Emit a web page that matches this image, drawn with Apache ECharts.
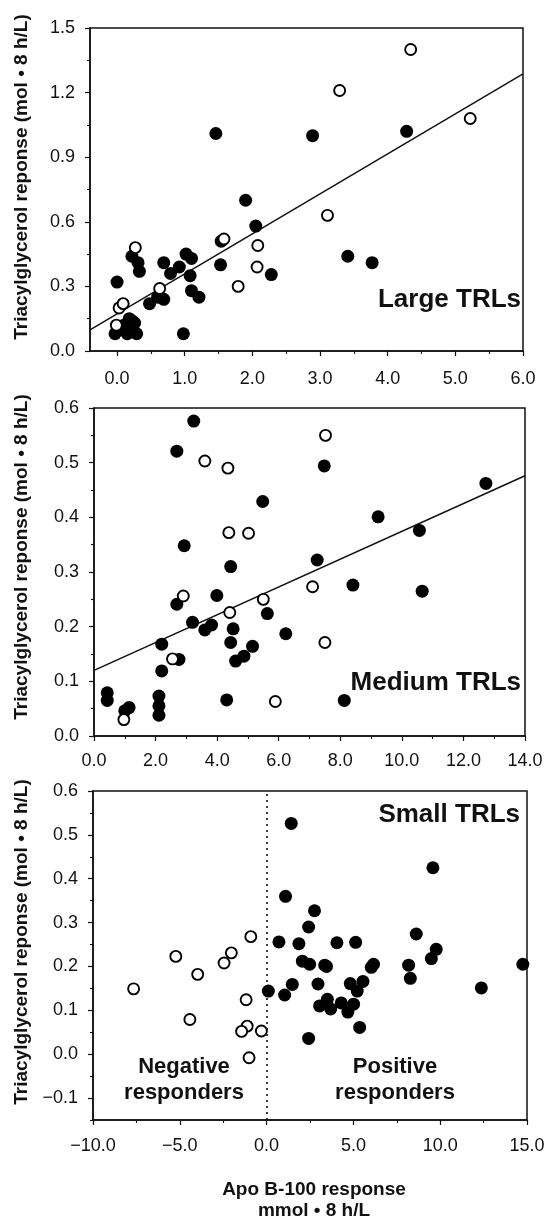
<!DOCTYPE html>
<html><head><meta charset="utf-8">
<script src="https://cdn.jsdelivr.net/npm/echarts@6/dist/echarts.min.js"></script>
<style>html,body{margin:0;padding:0;background:#fff}#c{width:549px;height:1222px}</style>
</head><body><div id="c"></div>
<script>
// ---------- DATA ----------
// Large TRLs
const largeFilled = [[-0.03,0.08],[0.05,0.10],[0.10,0.12],[0.15,0.08],[0.18,0.15],[0.22,0.14],[0.26,0.13],[0.20,0.10],[0.29,0.08],
  [0.00,0.32],[0.22,0.44],[0.31,0.41],[0.33,0.37],[0.48,0.22],[0.60,0.25],[0.69,0.24],[0.69,0.41],[0.79,0.36],[0.92,0.39],
  [1.02,0.45],[1.10,0.43],[1.08,0.35],[1.10,0.28],[1.21,0.25],[0.98,0.08],[1.46,1.01],[1.54,0.51],[1.53,0.40],[1.90,0.70],
  [2.05,0.58],[2.28,0.355],[2.89,1.00],[3.41,0.44],[3.77,0.41],[4.28,1.02]];
const largeOpen = [[-0.01,0.12],[0.03,0.20],[0.09,0.22],[0.27,0.48],[0.63,0.29],[1.58,0.52],[1.79,0.30],[2.08,0.49],[2.07,0.39],
  [3.11,0.63],[3.29,1.21],[4.34,1.40],[5.22,1.08]];
const largeFit = [[-0.4,0.098],[6.0,1.287]];
const largeXTicks = [0,1,2,3,4,5,6];
const largeXMinor = [0.5,1.5,2.5,3.5,4.5,5.5];
const largeYTicks = [0,0.3,0.6,0.9,1.2,1.5];
const largeYMinor = [0.15,0.45,0.75,1.05,1.35];

// Medium TRLs
const mediumFilled = [[0.43,0.079],[0.43,0.065],[1.00,0.046],[1.14,0.052],[2.11,0.073],[2.11,0.055],[2.11,0.038],[2.20,0.119],
  [2.20,0.168],[2.76,0.140],[2.69,0.241],[2.69,0.521],[2.93,0.348],[3.20,0.208],[3.24,0.576],[3.60,0.194],[3.82,0.203],
  [3.99,0.257],[4.31,0.066],[4.44,0.171],[4.52,0.196],[4.44,0.310],[4.60,0.137],[4.87,0.146],[5.15,0.164],[5.48,0.429],
  [5.63,0.224],[6.23,0.187],[7.25,0.322],[7.48,0.494],[8.13,0.065],[8.41,0.276],[9.23,0.401],[10.57,0.376],[10.66,0.265],
  [12.73,0.462]];
const mediumOpen = [[0.97,0.030],[2.55,0.141],[2.90,0.256],[3.60,0.503],[4.35,0.490],[4.38,0.372],[4.41,0.226],[5.02,0.371],
  [5.50,0.250],[5.89,0.063],[7.10,0.273],[7.50,0.171],[7.52,0.550]];
const mediumFit = [[0.0,0.120],[14.0,0.476]];
const mediumXTicks = [0,2,4,6,8,10,12,14];
const mediumXMinor = [1,3,5,7,9,11,13];
const mediumYTicks = [0,0.1,0.2,0.3,0.4,0.5,0.6];
const mediumYMinor = [0.05,0.15,0.25,0.35,0.45,0.55];

// Small TRLs
const smallOpen = [[-7.66,0.149],[-5.23,0.223],[-4.42,0.079],[-3.97,0.182],[-2.45,0.208],[-2.03,0.231],[-0.91,0.268],
  [-1.18,0.124],[-1.12,0.064],[-1.44,0.052],[-0.30,0.053],[-1.01,-0.008]];
const smallFilled = [[0.10,0.144],[0.71,0.256],[1.04,0.135],[1.09,0.360],[1.42,0.526],[1.48,0.159],[1.86,0.252],[2.06,0.212],
  [2.42,0.290],[2.42,0.036],[2.48,0.205],[2.76,0.327],[2.96,0.160],[3.05,0.110],[3.35,0.203],[3.45,0.200],[3.50,0.125],
  [3.69,0.103],[4.05,0.254],[4.30,0.117],[4.68,0.096],[4.82,0.161],[5.01,0.114],[5.13,0.255],[5.22,0.144],[5.36,0.061],
  [5.55,0.166],[6.03,0.198],[6.16,0.205],[8.18,0.203],[8.28,0.173],[8.62,0.274],[9.49,0.218],[9.58,0.425],[9.77,0.239],
  [12.37,0.151],[14.76,0.205]];
const smallXTicks = [-10,-5,0,5,10,15];
const smallXMinor = [-7.5,-2.5,2.5,7.5,12.5];
const smallYTicks = [-0.1,0,0.1,0.2,0.3,0.4,0.5,0.6];
const smallYMinor = [-0.15,-0.05,0.05,0.15,0.25,0.35,0.45,0.55];

const yTitle = 'Triacylglycerol reponse (mol \u2022 8 h/L)';
const xTitle1 = 'Apo B-100 response';
const xTitle2 = 'mmol \u2022 8 h/L';

// ---------- CHART ----------
const FONT = "'Liberation Sans', Arial, Helvetica, sans-serif";
const INK = '#111';
function fmt(v){ const s = (Math.round(v*10)/10).toFixed(1); return s.replace('-', '\u2212'); }

function mainX(g, min, max, vals, margin){
  return {type:'value', gridIndex:g, min:min, max:max, position:'bottom',
    axisLine:{show:true, onZero:false, lineStyle:{color:INK, width:1.5}},
    axisTick:{show:true, inside:false, length:5, customValues:vals, lineStyle:{color:INK, width:1.2}},
    axisLabel:{show:true, customValues:vals, formatter:fmt, color:INK, fontFamily:FONT, fontSize:18, margin:margin},
    splitLine:{show:false}};
}
function minorX(g, min, max, vals){
  return {type:'value', gridIndex:g, min:min, max:max, position:'bottom',
    axisLine:{show:false, onZero:false}, axisTick:{show:true, inside:false, length:3, customValues:vals, lineStyle:{color:INK, width:1.1}},
    axisLabel:{show:false}, splitLine:{show:false}};
}
function mainY(g, min, max, vals){
  return {type:'value', gridIndex:g, min:min, max:max, position:'left',
    axisLine:{show:true, onZero:false, lineStyle:{color:INK, width:1.5}},
    axisTick:{show:true, inside:false, length:5, customValues:vals, lineStyle:{color:INK, width:1.2}},
    axisLabel:{show:true, customValues:vals, formatter:fmt, color:INK, fontFamily:FONT, fontSize:18, margin:15},
    splitLine:{show:false}};
}
function minorY(g, min, max, vals){
  return {type:'value', gridIndex:g, min:min, max:max, position:'left',
    axisLine:{show:false, onZero:false}, axisTick:{show:true, inside:false, length:3, customValues:vals, lineStyle:{color:INK, width:1.1}},
    axisLabel:{show:false}, splitLine:{show:false}};
}
function filled(xi, yi, data){
  return {type:'scatter', xAxisIndex:xi, yAxisIndex:yi, data:data, symbol:'circle', symbolSize:13,
    itemStyle:{color:'#000', opacity:1}, z:3};
}
function open(xi, yi, data){
  return {type:'scatter', xAxisIndex:xi, yAxisIndex:yi, data:data, symbol:'circle', symbolSize:11,
    itemStyle:{color:'#fff', borderColor:'#000', borderWidth:1.9, opacity:1}, z:4};
}
function fit(xi, yi, data){
  return {type:'line', xAxisIndex:xi, yAxisIndex:yi, data:data, symbol:'none', showSymbol:false,
    lineStyle:{color:INK, width:1.5}, z:2, silent:true};
}
function txt(x, y, text, size, align, rot, lh){
  return {type:'text', x:x, y:y, rotation:rot||0, silent:true,
    style:{text:text, fill:INK, font:'bold '+size+'px '+FONT, fontWeight:'bold', fontSize:size, fontFamily:FONT,
      align:align, textAlign:align, verticalAlign:'middle', textVerticalAlign:'middle', lineHeight:lh||size}};
}

const chart = echarts.init(document.getElementById('c'), null, {renderer:'canvas'});
const gridStyle = {show:true, borderColor:INK, borderWidth:1.5, backgroundColor:'transparent'};
chart.setOption({
  animation:false,
  backgroundColor:'#fff',
  grid:[
    Object.assign({left:90, top:28, width:433, height:323}, gridStyle),
    Object.assign({left:94, top:408, width:431, height:328}, gridStyle),
    Object.assign({left:93, top:791, width:434, height:329}, gridStyle)
  ],
  xAxis:[
    mainX(0, -0.4, 6, largeXTicks, 19), minorX(0, -0.4, 6, largeXMinor),
    mainX(1, 0, 14, mediumXTicks, 16), minorX(1, 0, 14, mediumXMinor),
    mainX(2, -10, 15, smallXTicks, 17), minorX(2, -10, 15, smallXMinor)
  ],
  yAxis:[
    mainY(0, 0, 1.5, largeYTicks), minorY(0, 0, 1.5, largeYMinor),
    mainY(1, 0, 0.6, mediumYTicks), minorY(1, 0, 0.6, mediumYMinor),
    mainY(2, -0.15, 0.6, smallYTicks), minorY(2, -0.15, 0.6, smallYMinor)
  ],
  series:[
    fit(0,0,largeFit), filled(0,0,largeFilled), open(0,0,largeOpen),
    fit(2,2,mediumFit), filled(2,2,mediumFilled), open(2,2,mediumOpen),
    Object.assign(filled(4,4,smallFilled), {markLine:{silent:true, symbol:'none', label:{show:false},
      lineStyle:{color:INK, type:[2,4], width:1.6}, data:[{xAxis:0}]}}),
    open(4,4,smallOpen)
  ],
  graphic:[
    txt(22, 177, yTitle, 19, 'center', Math.PI/2),
    txt(22, 557, yTitle, 19, 'center', Math.PI/2),
    txt(22, 942, yTitle, 19, 'center', Math.PI/2),
    txt(521, 300, 'Large TRLs', 26, 'right'),
    txt(521, 683, 'Medium TRLs', 26, 'right'),
    txt(520, 815, 'Small TRLs', 26, 'right'),
    txt(184, 1080, 'Negative\nresponders', 22, 'center', 0, 26),
    txt(395, 1080, 'Positive\nresponders', 22, 'center', 0, 26),
    txt(314, 1190, xTitle1, 19, 'center'),
    txt(314, 1211, xTitle2, 19, 'center')
  ]
});
</script></body></html>
